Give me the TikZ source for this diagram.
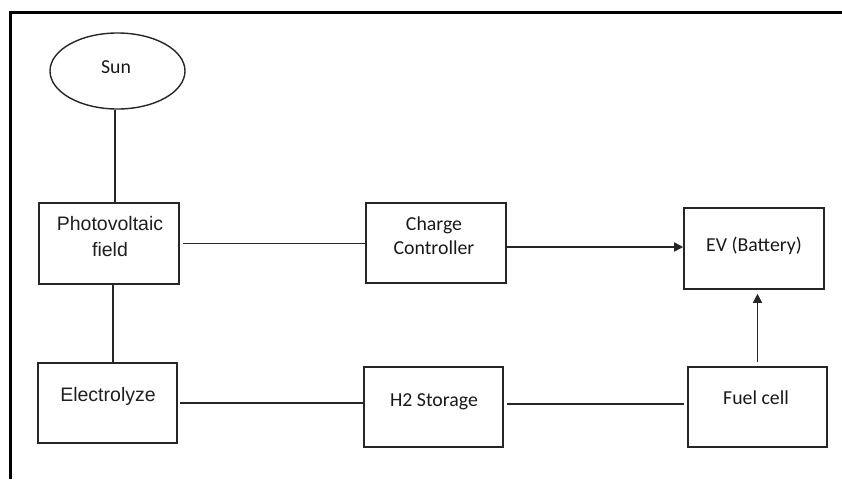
\documentclass[tikz,border=0pt]{standalone}
\usepackage{fontspec}
\setmainfont{Liberation Sans}
\newfontfamily\calib{Carlito}
\usetikzlibrary{shapes.geometric,arrows.meta}
\begin{document}
\begin{tikzpicture}[x=1pt,y=-1pt,
  blk/.style={draw=black!85, line width=1.6pt, inner sep=0pt, rectangle},
  conn/.style={draw=black!85, line width=1.6pt},
  arr/.style={conn, -{Triangle[length=9pt,width=9pt]}},
  atxt/.style={text=black!88, font=\fontsize{19.5}{24}\selectfont, inner sep=0pt, anchor=base},
  ctxt/.style={text=black!90, font=\calib\fontsize{19.8}{24}\selectfont, inner sep=0pt, anchor=base}]
\useasboundingbox (0,0) rectangle (842,479);
\draw[line width=3pt] (10,479) -- (10,12) -- (842,12);

% shapes
\node[ellipse, draw=black!85, line width=1.4pt, minimum width=135pt, minimum height=76pt, inner sep=0pt] (sun) at (117.5,71) {};
\node[blk, minimum width=140pt, minimum height=81pt] (pv) at (109,243.5) {};
\node[blk, minimum width=139pt, minimum height=80pt] (el) at (107.5,403) {};
\node[blk, minimum width=140pt, minimum height=80pt] (cc) at (436,243) {};
\node[blk, minimum width=139pt, minimum height=80pt] (h2) at (433.5,407) {};
\node[blk, minimum width=140pt, minimum height=81pt] (ev) at (754,248.5) {};
\node[blk, minimum width=139pt, minimum height=80pt] (fc) at (757.5,407) {};

% texts
\node[ctxt] (sunt) at (116,73) {Sun};
\node[atxt] (pvt1) at (110,230) {Photovoltaic};
\node[atxt] (pvt2) at (110,256) {field};
\node[atxt] (elt) at (108,401.5) {Electrolyze};
\node[ctxt] (cct1) at (434,230.5) {Charge};
\node[ctxt] (cct2) at (434,254) {Controller};
\node[ctxt] (h2t) at (434,406) {H2 Storage};
\node[ctxt] (evt) at (754,251) {EV (Battery)};
\node[ctxt] (fct) at (756,404.5) {Fuel cell};

% connectors
\draw[conn] (sun.south -| 115,0) -- (pv.north -| 115,0);
\draw[conn] ([xshift=4pt]pv.south) -- ([xshift=4pt]pv.south |- el.north);
\draw[conn] ([xshift=3pt]pv.east) -- (pv.east -| cc.west);
\draw[arr] (cc.east |- 0,247) -- (ev.west |- 0,247);
\draw[conn] ([xshift=2pt]el.east) -- (el.east -| h2.west);
\draw[conn] ([yshift=3pt,xshift=3pt]h2.east) -- ([yshift=3pt,xshift=-3pt]fc.west);
\draw[arr] ([yshift=4pt]fc.north) -- ([yshift=-4pt]fc.north |- ev.south);
\end{tikzpicture}
\end{document}
